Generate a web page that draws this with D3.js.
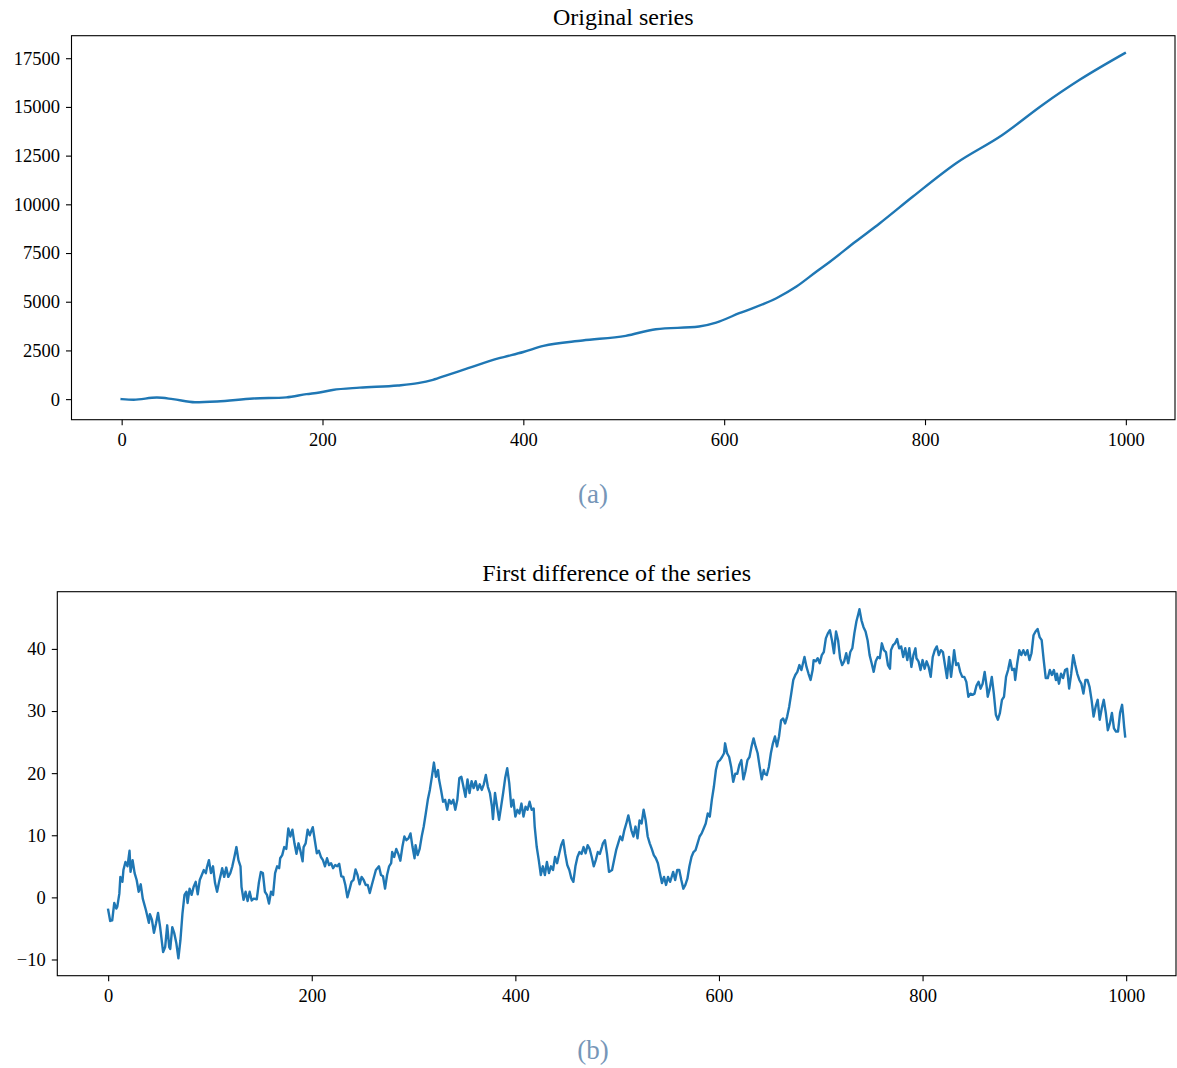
<!DOCTYPE html>
<html>
<head>
<meta charset="utf-8">
<script src="https://cdn.jsdelivr.net/npm/d3@7"></script>
<style>
body { margin: 0; background: #fff; }
svg text { font-family: "Liberation Serif", "DejaVu Serif", serif; fill: #000; }
</style>
</head>
<body>
<svg id="drawing_region"></svg>
<script>
// original series
const seriesIdx = [0, 12, 35, 51, 73, 95, 131, 164, 184, 197, 210, 237, 275, 295, 310, 325, 340, 376, 400, 420,
    459, 502, 532, 575, 592, 615, 652, 672, 692, 705, 731, 755, 788, 831, 877, 917, 954, 999];
const seriesVal = [0, -30, 80, 0, -160, -120, 30, 90, 256, 340, 470, 590, 700, 820, 990, 1250, 1500, 2100, 2420, 2735,
    3010, 3250, 3590, 3730, 3930, 4410, 5180, 5780, 6550, 7040, 8090, 9030, 10400, 12110, 13560, 15100, 16390, 17760];

// first difference
const diffIdx = [0, 2, 4, 6, 8, 9, 11, 12, 14, 15, 17, 19, 21, 22, 24, 26, 28, 30, 32, 34, 37, 40, 41, 43, 45, 47, 49, 51, 54, 56, 58, 60, 61, 63, 65, 67, 69, 71, 73, 75, 77, 78, 80, 82, 84, 86, 88, 90, 92, 94, 96, 97, 99,
    101, 103, 105, 107, 109, 111, 112, 114, 116, 118, 120, 122, 124, 126, 128, 130, 131, 133, 135, 137, 139, 141, 143, 146, 148, 150, 152, 154, 156, 158, 160, 162, 164, 166, 168, 169, 171, 173, 175, 177, 179, 181, 183, 185, 187, 189, 191, 192, 194, 196, 198,
    201, 203, 205, 207, 209, 211, 213, 215, 217, 219, 221, 223, 225, 227, 229, 231, 233, 235, 237, 239, 241, 243, 245, 247, 249, 251, 253, 255, 257, 259, 261, 263, 266, 268, 270, 272, 274, 276, 278, 279, 281, 283, 285, 287, 289, 291, 293, 295, 297, 299,
    301, 302, 304, 306, 308, 310, 312, 314, 316, 318, 320, 322, 324, 325, 327, 329, 331, 333, 335, 337, 339, 341, 343, 345, 347, 349, 351, 353, 355, 357, 359, 361, 363, 365, 367, 369, 371, 373, 375, 377, 378, 380, 382, 384, 386, 388, 390, 392, 394, 396, 398,
    400, 402, 404, 406, 408, 410, 412, 414, 416, 418, 419, 421, 423, 425, 427, 429, 431, 433, 435, 437, 439, 441, 443, 445, 447, 449, 451, 453, 455, 457, 459, 461, 463, 465, 467, 469, 471, 473, 475, 477, 479, 481, 483, 485, 486, 488, 490, 492, 495, 497, 499,
    501, 503, 505, 507, 509, 511, 512, 514, 516, 518, 520, 522, 524, 526, 528, 530, 532, 534, 536, 538, 540, 542, 544, 546, 548, 550, 552, 553, 555, 557, 559, 561, 563, 565, 567, 569, 571, 573, 575, 577, 579, 581, 583, 585, 587, 589, 591, 593, 595, 597, 599,
    601, 603, 605, 606, 608, 610, 612, 614, 616, 618, 620, 622, 624, 626, 628, 630, 632, 634, 636, 638, 640, 642, 644, 645, 647, 649, 651, 653, 655, 657, 659, 661, 663, 665, 667, 669, 671, 673, 675, 677, 679, 681, 683, 684, 686, 688, 690, 692, 693, 695, 697, 699,
    701, 703, 705, 707, 709, 711, 713, 715, 717, 719, 721, 723, 725, 727, 729, 731, 733, 735, 737, 738, 740, 742, 744, 746, 748, 750, 752, 754, 756, 758, 760, 762, 764, 766, 768, 769, 771, 773, 775, 777, 779, 781, 783, 785, 787, 789, 791, 793, 794, 796, 798,
    800, 802, 804, 806, 808, 810, 812, 814, 816, 818, 820, 822, 824, 826, 828, 830, 831, 833, 835, 837, 839, 841, 843, 845, 847, 849, 851, 853, 855, 857, 859, 861, 863, 864, 866, 868, 870, 872, 874, 876, 878, 880, 882, 884, 886, 888, 890, 891, 893, 895, 897, 899,
    901, 903, 905, 907, 909, 911, 913, 915, 917, 919, 921, 923, 925, 927, 929, 931, 932, 934, 936, 938, 940, 942, 944, 946, 948, 950, 952, 954, 956, 958, 960, 962, 964, 966, 968, 970, 972, 974, 976, 978, 980, 982, 984, 986, 988, 990, 992, 994, 996, 997, 998, 999];
const diffVal = [-2.0, -3.8, -3.7, -0.9, -1.8, -1.5, 0.6, 3.3, 2.5, 4.4, 5.7, 5.0, 7.5, 4.1, 6.0, 3.9, 2.8, 0.9, 2.1, -0.2, -2.0, -4.1, -2.7, -3.6, -5.7, -4.2, -2.5, -4.7, -8.8, -8.0, -4.5, -8.0, -8.3, -4.8, -5.8, -7.4, -9.8, -6.9, -2.6, 0.4, 0.9, -0.9, 1.4, 0.4, 1.7, 2.5, 0.5, 2.8, 3.6, 4.4, 3.9, 4.8, 6.0,
    3.9, 5.0, 2.3, 0.9, 2.5, 3.9, 4.7, 3.3, 4.8, 3.3, 3.9, 5.0, 6.5, 8.1, 6.0, 5.0, 1.7, -0.4, 0.9, -0.6, 0.9, -0.5, -0.2, -0.3, 2.3, 4.1, 3.9, 0.9, 0.4, -1.0, 0.9, 0.4, 3.9, 5.0, 4.7, 6.3, 6.8, 8.1, 7.8, 11.1, 9.8, 10.9, 8.7, 7.0, 8.7, 7.4, 5.8, 8.1, 8.7, 10.9, 10.0,
    11.3, 9.2, 7.1, 7.5, 6.5, 6.0, 5.0, 6.3, 5.2, 5.5, 4.7, 5.2, 5.0, 5.4, 3.4, 3.3, 2.0, 0.0, 1.2, 2.5, 2.8, 4.5, 3.6, 2.1, 3.3, 2.8, 2.0, 2.0, 0.7, 2.0, 3.2, 4.4, 5.0, 3.6, 3.4, 1.4, 3.6, 5.0, 5.5, 7.3, 6.5, 7.8, 7.0, 5.9, 8.1, 9.8, 9.2, 9.5, 10.3, 8.1,
    6.3, 8.4, 6.8, 7.8, 9.8, 11.4, 13.5, 15.7, 17.3, 19.4, 21.7, 19.4, 20.5, 19.0, 17.3, 15.4, 15.7, 14.1, 15.7, 15.1, 15.7, 14.1, 15.7, 19.2, 19.4, 17.8, 16.2, 19.0, 16.8, 18.7, 17.6, 18.7, 17.3, 18.2, 17.3, 18.2, 19.7, 17.8, 16.8, 14.6, 12.6, 16.8, 14.6, 12.5, 14.6, 16.8, 19.2, 20.8, 18.4, 14.6, 15.7,
    13.0, 14.1, 13.5, 15.1, 13.0, 14.6, 14.1, 15.4, 14.1, 14.3, 11.4, 8.1, 6.0, 3.6, 5.0, 3.6, 5.7, 3.9, 5.0, 4.4, 6.5, 5.5, 7.0, 8.4, 9.2, 7.0, 5.2, 4.4, 3.1, 2.5, 5.0, 6.5, 7.3, 7.0, 8.1, 7.1, 8.4, 7.8, 6.5, 5.0, 6.0, 7.3, 7.0, 8.1, 8.7, 9.2, 7.0, 4.1, 4.4, 6.0, 7.6,
    8.7, 9.8, 9.2, 10.8, 11.9, 13.2, 12.4, 10.8, 9.8, 11.4, 9.5, 12.4, 11.9, 14.1, 12.4, 9.8, 8.7, 7.8, 6.8, 6.3, 5.5, 3.9, 2.3, 3.3, 2.0, 3.3, 2.5, 3.0, 4.1, 2.8, 4.4, 4.4, 2.8, 1.4, 2.0, 3.0, 5.0, 6.5, 7.3, 7.6, 8.7, 9.8, 10.3, 11.1, 11.9, 13.5, 13.0, 15.7, 17.8, 20.5, 21.8,
    22.1, 22.6, 23.2, 24.8, 23.2, 22.6, 21.0, 18.6, 19.9, 19.9, 21.3, 22.1, 19.0, 20.3, 22.1, 22.6, 24.3, 25.6, 24.3, 23.2, 21.0, 19.0, 20.5, 19.9, 19.7, 21.0, 23.2, 24.8, 25.9, 24.3, 25.9, 28.5, 28.8, 28.0, 29.1, 30.7, 32.8, 35.0, 35.8, 36.3, 37.4, 36.6, 38.0, 38.7, 37.1, 36.0, 35.0, 36.6, 38.2, 38.0, 38.5, 37.7,
    39.0, 39.5, 41.7, 42.5, 43.0, 41.4, 39.3, 42.8, 41.4, 38.5, 37.4, 38.0, 39.3, 37.7, 39.5, 40.1, 42.5, 44.4, 45.7, 46.4, 44.6, 43.5, 42.8, 41.4, 39.0, 37.7, 36.3, 38.0, 38.7, 38.5, 40.9, 39.8, 39.5, 37.4, 36.8, 39.8, 40.6, 40.9, 41.6, 40.1, 40.4, 38.7, 40.1, 38.2, 40.1, 37.1, 39.0, 40.1, 38.5, 38.0, 36.6,
    38.2, 36.8, 38.0, 37.1, 35.5, 38.7, 39.8, 40.4, 39.0, 39.8, 39.5, 37.4, 35.3, 38.7, 35.5, 38.2, 39.8, 37.4, 37.7, 36.3, 35.5, 35.5, 34.7, 32.3, 32.8, 32.6, 32.8, 34.1, 34.7, 33.6, 34.4, 36.3, 33.9, 32.3, 33.6, 35.5, 32.8, 29.4, 28.6, 29.7, 31.8, 32.3, 35.5, 36.6, 38.2, 36.6, 36.8, 35.0, 37.7, 39.8, 39.0, 39.8,
    39.0, 39.8, 38.2, 39.3, 42.2, 42.8, 43.2, 41.9, 41.4, 38.2, 35.3, 35.3, 36.6, 35.8, 36.6, 35.0, 36.0, 34.4, 36.0, 35.3, 36.6, 36.8, 33.6, 36.0, 39.0, 37.4, 36.0, 35.0, 34.4, 32.8, 35.0, 35.0, 33.9, 31.8, 29.1, 30.7, 31.8, 28.6, 30.4, 31.8, 29.7, 26.9, 28.0, 29.7, 27.2, 26.7, 26.7, 29.7, 31.0, 29.4, 27.5, 25.9];

const xTicks = [0, 200, 400, 600, 800, 1000];
const seriesTicks = [0, 2500, 5000, 7500, 10000, 12500, 15000, 17500];
const diffTicks = [-10, 0, 10, 20, 30, 40];

const titles = ["Original series", "First difference of the series"];
const captions = ["(a)", "(b)"];

const svg = d3.select('#drawing_region')
    .attr('width', 1177)
    .attr('height', 1068);

class LineChart {
    constructor(config, xs, ys) {
        this.config = config;
        this.data = xs.map((x, i) => ({ x: x, y: ys[i] }));
        this.init();
    }
    init() {
        let self = this;
        const c = self.config;
        self.chart = svg.append('g')
            .attr('transform', `translate(${c.left}, ${c.top})`);

        self.xscale = d3.scaleLinear().range([0, c.width]);
        self.yscale = d3.scaleLinear().range([c.height, 0]);

        self.xaxis = d3.axisBottom(self.xscale)
            .tickValues(c.xticks)
            .tickFormat(d3.format('d'))
            .tickSize(5.5)
            .tickPadding(7.5);
        self.yaxis = d3.axisLeft(self.yscale)
            .tickValues(c.yticks)
            .tickFormat(d => d < 0 ? '\u2212' + Math.abs(d) : String(d))
            .tickSize(5.5)
            .tickPadding(6);
    }
    update() {
        let self = this;
        // matplotlib-like 5% margins
        const xe = d3.extent(self.data, d => d.x);
        const ye = d3.extent(self.data, d => d.y);
        const xp = (xe[1] - xe[0]) * 0.05, yp = (ye[1] - ye[0]) * 0.05;
        self.xscale.domain([xe[0] - xp, xe[1] + xp]);
        self.yscale.domain([ye[0] - yp, ye[1] + yp]);
        self.render();
    }
    render() {
        let self = this;
        const c = self.config;

        const line = d3.line()
            .x(d => self.xscale(d.x))
            .y(d => self.yscale(d.y))
            .curve(c.curve);

        self.chart.append('path')
            .datum(self.data)
            .attr('d', line)
            .attr('fill', 'none')
            .attr('stroke', '#1f77b4')
            .attr('stroke-width', 2.4)
            .attr('stroke-linejoin', 'round')
            .attr('stroke-linecap', 'square');

        const xg = self.chart.append('g')
            .attr('transform', `translate(0, ${c.height})`)
            .call(self.xaxis);
        const yg = self.chart.append('g')
            .call(self.yaxis);
        [xg, yg].forEach(g => {
            g.select('.domain').remove();
            g.selectAll('line').attr('stroke', '#000').attr('stroke-width', 1.1);
            g.selectAll('text')
                .attr('font-size', 18.5)
                .attr('font-family', '"Liberation Serif", serif')
                .attr('fill', '#000');
        });

        self.chart.append('rect')
            .attr('width', c.width)
            .attr('height', c.height)
            .attr('fill', 'none')
            .attr('stroke', '#000')
            .attr('stroke-width', 1.1);

        self.chart.append('text')
            .attr('x', c.width / 2)
            .attr('y', -10.5)
            .attr('text-anchor', 'middle')
            .attr('font-size', 24)
            .text(c.title);

        svg.append('text')
            .attr('x', 593)
            .attr('y', c.top + c.height + 83)
            .attr('text-anchor', 'middle')
            .attr('font-size', 27)
            .style('fill', '#7696b8')
            .text(c.caption);
    }
}

const top_chart = new LineChart({
    left: 71.5, top: 35.7, width: 1103.5, height: 384,
    xticks: xTicks, yticks: seriesTicks,
    title: titles[0], caption: captions[0],
    curve: d3.curveMonotoneX
}, seriesIdx, seriesVal);
top_chart.update();

const bottom_chart = new LineChart({
    left: 57.3, top: 591.7, width: 1118.7, height: 384,
    xticks: xTicks, yticks: diffTicks,
    title: titles[1], caption: captions[1],
    curve: d3.curveLinear
}, diffIdx, diffVal);
bottom_chart.update();
</script>
</body>
</html>
